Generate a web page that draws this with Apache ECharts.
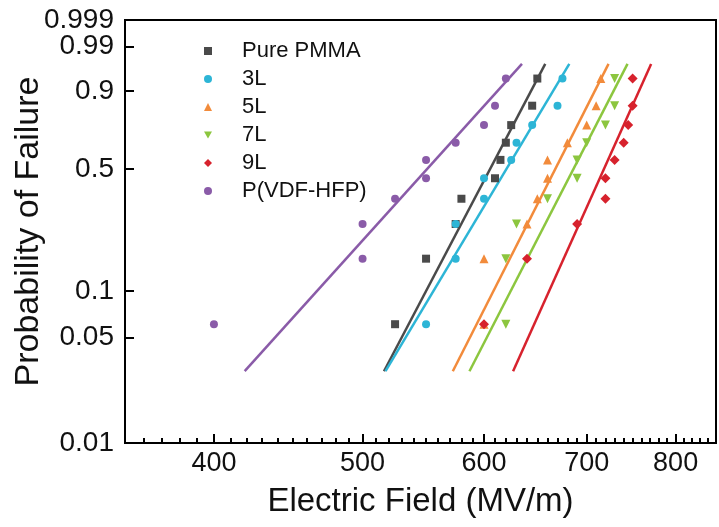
<!DOCTYPE html>
<html><head><meta charset="utf-8">
<script src="https://cdn.jsdelivr.net/npm/echarts@6/dist/echarts.min.js"></script>
<style>html,body{margin:0;padding:0;background:#fff}#c{width:719px;height:527px}</style>
</head><body><div id="c"></div>
<script>
// ---- data ----
const seriesNames = ['Pure PMMA', '3L', '5L', '7L', '9L', 'P(VDF-HFP)'];
const probLevels = [0.061, 0.159, 0.256, 0.354, 0.451, 0.549, 0.646, 0.744, 0.841, 0.939];
const fieldPMMA = [525, 550, 575, 580, 610, 615, 620, 625, 645, 650];
const field3L   = [550, 575, 575, 600, 600, 625, 630, 645, 670, 675];
const field5L   = [600, 600, 640, 650, 660, 660, 680, 700, 710, 715];
const field7L   = [620, 620, 630, 660, 690, 690, 700, 720, 730, 730];
const field9L   = [600, 640, 690, 720, 720, 730, 740, 745, 750, 750];
const fieldPVDF = [400, 500, 500, 525, 550, 550, 575, 600, 610, 620];
const weibullScale = [617, 634, 680, 699, 730, 569];
const weibullShape = [19.6, 17.2, 20.3, 20.0, 22.9, 11.4];
const fitProbRange = [0.03, 0.97];
const xTickLabels = [400, 500, 600, 700, 800];
const xMinorTicks = [360, 370, 380, 390, 410, 420, 430, 440, 450, 460, 470, 480, 490,
  510, 520, 530, 540, 550, 560, 570, 580, 590, 610, 620, 630, 640, 650, 660, 670, 680, 690,
  710, 720, 730, 740, 750, 760, 770, 780, 790, 810, 820, 830, 840];
const yTickLabels = [0.01, 0.05, 0.1, 0.5, 0.9, 0.99];
const yTopLabel = [0.999];
const xRange = [350, 850];
const yRange = [0.01, 0.999];

const fields = [fieldPMMA, field3L, field5L, field7L, field9L, fieldPVDF];
const colors = ['#4a4a4a', '#2db5d6', '#f28b3b', '#8cc63f', '#d7222d', '#8a5ba8'];
const symbols = ['rect', 'circle', 'triangle', 'triangle', 'diamond', 'circle'];
const rotations = [0, 0, 0, 180, 0, 0];
const sizes = [8, 8, 9, 9, 10, 8];
const legendIcons = ['rect', 'circle', 'triangle', 'path://M0,0L10,0L5,8.66Z', 'diamond', 'circle'];

// Weibull transforms
const fx = e => Math.log(e);
const fy = p => Math.log(-Math.log(1 - p));

const FONT = '"Liberation Sans", Arial, sans-serif';
const allYLabels = yTickLabels.concat(yTopLabel);
const yFormatter = v => {
  let best = allYLabels[0];
  allYLabels.forEach(p => { if (Math.abs(fy(p) - v) < Math.abs(fy(best) - v)) best = p; });
  return String(best);
};

const series = [];
fields.forEach((arr, i) => {
  series.push({
    name: 'fit' + i, type: 'line', xAxisIndex: 0, yAxisIndex: 0,
    showSymbol: false, symbol: 'none', silent: true, z: 2,
    lineStyle: {color: colors[i], width: 2.5},
    data: fitProbRange.map(p => {
      const w = fy(p);
      const e = weibullScale[i] * Math.exp(w / weibullShape[i]);
      return [fx(e), w];
    })
  });
});
fields.forEach((arr, i) => {
  series.push({
    name: seriesNames[i], type: 'scatter', xAxisIndex: 0, yAxisIndex: 0,
    symbol: symbols[i], symbolRotate: rotations[i], symbolSize: sizes[i],
    symbolKeepAspect: true, z: 3,
    itemStyle: {color: colors[i], opacity: 1},
    data: arr.map((e, k) => [fx(e), fy(probLevels[k])])
  });
});

const chart = echarts.init(document.getElementById('c'), null, {renderer: 'canvas'});
chart.setOption({
  animation: false,
  backgroundColor: '#fff',
  grid: {left: 125, right: 3, top: 20, bottom: 84, show: true, borderColor: '#000', borderWidth: 2,
    backgroundColor: 'transparent', containLabel: false, outerBoundsMode: 'none'},
  legend: {
    orient: 'vertical', left: 204, top: 40, padding: 0,
    itemWidth: 8, itemHeight: 8, itemGap: 6,
    data: seriesNames.map((n, i) => ({name: n, icon: legendIcons[i]})),
    textStyle: {fontFamily: FONT, fontSize: 22, color: '#111', padding: [0, 0, 0, 25]}
  },
  xAxis: [{
    type: 'value', position: 'bottom', min: fx(xRange[0]), max: fx(xRange[1]),
    splitLine: {show: false},
    axisLine: {show: true, onZero: false, lineStyle: {color: '#000', width: 2}},
    axisTick: {show: true, inside: true, length: 9, lineStyle: {color: '#000', width: 2},
      customValues: xTickLabels.map(fx)},
    axisLabel: {customValues: xTickLabels.map(fx), margin: 7, color: '#111', fontFamily: FONT, fontSize: 27,
      hideOverlap: false, formatter: v => String(Math.round(Math.exp(v)))},
    name: 'Electric Field (MV/m)', nameLocation: 'middle', nameGap: 42, nameMoveOverlap: false,
    nameTextStyle: {fontFamily: FONT, fontSize: 33, color: '#111'}
  }, {
    type: 'value', position: 'bottom', min: fx(xRange[0]), max: fx(xRange[1]),
    splitLine: {show: false},
    axisLine: {show: false, onZero: false},
    axisTick: {show: true, inside: true, length: 5, lineStyle: {color: '#000', width: 2},
      customValues: xMinorTicks.map(fx)},
    axisLabel: {show: false}
  }],
  yAxis: [{
    type: 'value', position: 'left', min: fy(yRange[0]), max: fy(yRange[1]),
    splitLine: {show: false},
    axisLine: {show: true, onZero: false, lineStyle: {color: '#000', width: 2}},
    axisTick: {show: true, inside: true, length: 9, lineStyle: {color: '#000', width: 2},
      customValues: yTickLabels.map(fy)},
    axisLabel: {customValues: yTickLabels.map(fy), margin: 11, color: '#111', fontFamily: FONT, fontSize: 28,
      showMinLabel: true, showMaxLabel: true, hideOverlap: false, formatter: yFormatter},
    name: 'Probability of Failure', nameLocation: 'middle', nameGap: 79, nameMoveOverlap: false,
    nameTextStyle: {fontFamily: FONT, fontSize: 34, color: '#111'}
  }, {
    type: 'value', position: 'left', offset: 0, min: fy(yRange[0]), max: fy(yRange[1]),
    splitLine: {show: false},
    axisLine: {show: false, onZero: false},
    axisTick: {show: false},
    axisLabel: {customValues: yTopLabel.map(fy), margin: 11, color: '#111', fontFamily: FONT, fontSize: 28,
      showMinLabel: true, showMaxLabel: true, hideOverlap: false, formatter: yFormatter}
  }],
  series: series
});
</script></body></html>
